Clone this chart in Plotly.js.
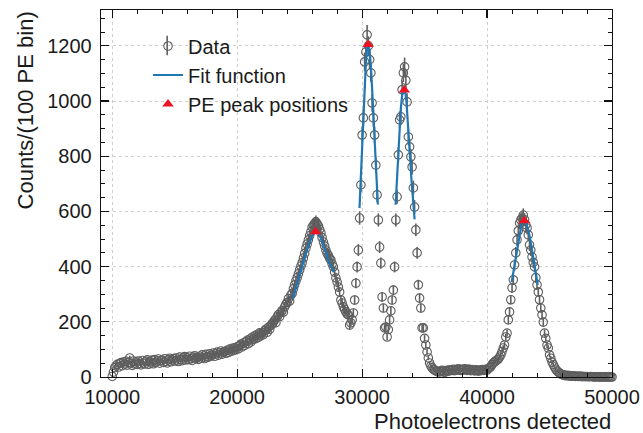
<!DOCTYPE html>
<html>
<head>
<meta charset="utf-8">
<script src="https://cdn.plot.ly/plotly-3.0.1.min.js"></script>
<style>html,body{margin:0;padding:0;background:#fff;}#chart{width:643px;height:433px;}</style>
</head>
<body>
<div id="chart"></div>
<script>
// Histogram: 100 PE bins starting at 10000 PE
const binStart = 10000;
const binWidth = 100;
const counts = [
  2, 18, 34, 40, 46, 36, 49, 52, 41, 54,            // 10000
  47, 57, 43, 53, 69, 50, 42, 58, 47, 55,           // 11000
  46, 58, 50, 44, 60, 51, 47, 57, 62, 46,           // 12000
  57, 50, 61, 48, 63, 53, 58, 65, 50, 59,           // 13000
  61, 53, 66, 57, 51, 63, 68, 55, 62, 67,           // 14000
  58, 69, 61, 56, 72, 63, 59, 70, 74, 62,           // 15000
  70, 63, 75, 66, 60, 72, 77, 67, 71, 64,           // 16000
  75, 69, 80, 71, 67, 82, 74, 72, 84, 76,           // 17000
  80, 87, 75, 84, 90, 79, 87, 94, 83, 90,           // 18000
  92, 86, 97, 89, 101, 93, 104, 96, 106, 99,        // 19000
  109, 102, 114, 119, 109, 123, 115, 128, 133, 121, // 20000
  137, 127, 144, 137, 149, 139, 154, 144, 160, 149, // 21000
  161, 154, 168, 173, 162, 180, 173, 187, 193, 199, // 22000
  206, 197, 218, 226, 219, 234, 241, 235, 254, 263, // 23000
  270, 284, 275, 297, 303, 320, 334, 348, 360, 374, // 24000
  388, 402, 414, 431, 448, 467, 482, 497, 512, 526, // 25000
  543, 550, 556, 562, 555, 548, 535, 522, 505, 489, // 26000
  475, 460, 448, 440, 430, 424, 410, 399, 380, 359, // 27000
  344, 326, 308, 279, 268, 254, 245, 236, 228, 225, // 28000
  188, 196, 207, 232, 279, 340, 399, 460, 576, 696, // 29000
  877, 939, 1142, 1178, 1240, 1200, 1150, 1102, 993, 939, // 30000
  877, 768, 660, 569, 471, 413, 290, 250, 178, 181, // 31000
  145, 172, 207, 240, 279, 315, 399, 569, 653, 805, // 32000
  932, 943, 1041, 1102, 1124, 1075, 997, 870, 834, 798, // 33000
  761, 685, 616, 533, 450, 334, 286, 250, 178, 178, // 34000
  140, 116, 91, 69, 51, 40, 33, 28, 25, 22,         // 35000
  20, 18, 22, 19, 24, 21, 17, 23, 20, 25,           // 36000
  22, 26, 24, 28, 23, 27, 25, 30, 26, 24,           // 37000
  28, 25, 30, 27, 24, 29, 26, 23, 27, 25,           // 38000
  22, 26, 24, 21, 25, 23, 27, 24, 26, 28,           // 39000
  25, 30, 33, 38, 45, 51, 55, 58, 62, 65,           // 40000
  72, 80, 92, 105, 116, 145, 159, 207, 236, 280,    // 41000
  323, 352, 406, 450, 497, 530, 558, 569, 575, 587, // 42000
  570, 552, 540, 515, 479, 460, 435, 415, 399, 360, // 43000
  334, 308, 280, 250, 225, 199, 159, 140, 116, 105, // 44000
  80, 68, 54, 45, 36, 28, 22, 18, 14, 11,           // 45000
  9, 7, 6, 5, 6, 4, 5, 3, 4, 3,                     // 46000
  3, 2, 3, 2, 2, 3, 1, 2, 2, 1,                     // 47000
  2, 1, 1, 2, 1, 1, 0, 1, 1, 0,                     // 48000
  1, 0, 1, 0, 0, 1, 0, 0, 1, 0,                     // 49000
  0                                                 // 50000
];

// Fit function segments
const fit1X = [24450, 24600, 24800, 25000, 25200, 25400, 25600, 25800, 26000, 26200, 26300, 26400, 26600, 26800, 27000, 27200, 27400, 27600, 27750];
const fit1Y = [284, 306, 336, 368, 400, 432, 462, 489, 512, 528, 532, 530, 514, 490, 462, 436, 412, 394, 381];
const fit2X = [29790, 29900, 30000, 30100, 30200, 30300, 30400, 30480, 30550, 30650, 30750, 30850, 30950, 31050, 31150, 31260];
const fit2Y = [612, 720, 830, 945, 1055, 1140, 1192, 1205, 1195, 1155, 1090, 1010, 920, 825, 725, 625];
const fit3X = [32680, 32800, 32900, 33000, 33100, 33200, 33300, 33380, 33450, 33550, 33650, 33750, 33850, 33950, 34050, 34200];
const fit3Y = [624, 730, 820, 905, 975, 1020, 1042, 1046, 1035, 995, 935, 865, 790, 715, 650, 571];
const fit4X = [41970, 42100, 42200, 42300, 42400, 42500, 42600, 42700, 42800, 42900, 43000, 43100, 43200, 43300, 43400, 43500, 43600, 43700, 43800, 43900, 44060];
const fit4Y = [344, 378, 405, 433, 462, 490, 515, 537, 552, 562, 565, 561, 550, 533, 512, 487, 459, 430, 399, 369, 334];

// PE peak positions
const peakX = [26280, 30480, 33380, 42980];
const peakY = [526, 1205, 1040, 566];

// Fit segments joined with gaps for a single legend entry
const fitX = [].concat(fit1X, [null], fit2X, [null], fit3X, [null], fit4X);
const fitY = [].concat(fit1Y, [null], fit2Y, [null], fit3Y, [null], fit4Y);

const FONT = 'Liberation Sans, Arial, Helvetica, sans-serif';
const TXT = '#1a1a1a';

const traces = [
  {
    type: 'scatter', mode: 'markers', name: 'Data',
    y: counts, x0: binStart, dx: binWidth,
    marker: {symbol: 'circle-open', size: 8.5, color: '#5e5e5e', line: {width: 1.1, color: '#5e5e5e'}},
    error_y: {type: 'sqrt', visible: true, color: '#606060', thickness: 1.6, width: 0},
    cliponaxis: false
  },
  {
    type: 'scatter', mode: 'lines', name: 'Fit function',
    x: fitX, y: fitY, connectgaps: false,
    line: {color: '#1f77b4', width: 2.2}
  },
  {
    type: 'scatter', mode: 'markers', name: 'PE peak positions',
    x: peakX, y: peakY,
    marker: {symbol: 'triangle-up', size: 10, color: '#ee1122'}
  }
];

const axisCommon = {
  showline: true, linecolor: '#111', linewidth: 1.3, mirror: 'allticks',
  ticks: 'inside', ticklen: 8, tickwidth: 1.2, tickcolor: '#111',
  showgrid: true, gridcolor: '#cfcfcf', griddash: 'dot', gridwidth: 1,
  zeroline: false, tickformat: 'd',
  tickfont: {family: FONT, size: 20, color: TXT}
};

const layout = {
  width: 643, height: 433,
  margin: {l: 101, r: 31, t: 10, b: 56, pad: 0},
  paper_bgcolor: '#fff', plot_bgcolor: '#fff',
  font: {family: FONT, color: TXT},
  showlegend: true,
  legend: {
    x: 0.092, xanchor: 'left', y: 0.955, yanchor: 'top',
    bgcolor: 'rgba(0,0,0,0)', borderwidth: 0,
    font: {family: FONT, size: 20, color: TXT},
    tracegroupgap: 0, itemwidth: 30
  },
  xaxis: Object.assign({}, axisCommon, {
    range: [9100, 50000], tick0: 10000, dtick: 10000,
    ticklabelstandoff: 2,
    minor: {ticks: 'inside', ticklen: 4, tickwidth: 1, tickcolor: '#111', dtick: 2000, tick0: 10000, showgrid: false}
  }),
  yaxis: Object.assign({}, axisCommon, {
    range: [0, 1330], tick0: 0, dtick: 200,
    ticklabelstandoff: 4,
    minor: {ticks: 'inside', ticklen: 4, tickwidth: 1, tickcolor: '#111', dtick: 50, tick0: 0, showgrid: false}
  }),
  shapes: [
    // error-bar stroke on the "Data" legend glyph
    {type: 'line', xref: 'paper', yref: 'paper', x0: 0.1295, x1: 0.1295, y0: 0.877, y1: 0.93,
     line: {color: '#606060', width: 1.6}}
  ],
  annotations: [
    {text: 'Photoelectrons detected', xref: 'paper', yref: 'paper', x: 1, xanchor: 'right',
     y: -0.1215, yanchor: 'middle', showarrow: false, borderpad: 0, font: {family: FONT, size: 22, color: TXT}},
    {text: 'Counts/(100 PE bin)', xref: 'paper', yref: 'paper', x: -0.148, xanchor: 'center',
     y: 0.7275, yanchor: 'middle', textangle: -90, showarrow: false, borderpad: 0, font: {family: FONT, size: 22, color: TXT}}
  ]
};

Plotly.newPlot('chart', traces, layout, {displayModeBar: false, staticPlot: true});
</script>
</body>
</html>
